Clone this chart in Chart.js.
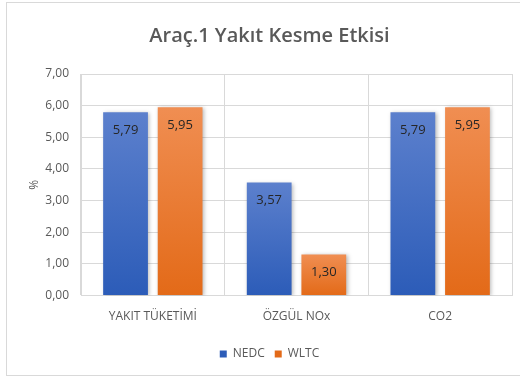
<!DOCTYPE html>
<html>
<head>
<meta charset="utf-8">
<script src="https://cdn.jsdelivr.net/npm/chart.js@4/dist/chart.umd.min.js"></script>
<style>
  html, body { margin: 0; padding: 0; background: #fff; overflow: hidden; }
  #frame {
    position: absolute; left: 6px; top: 2px; width: 560px; height: 374px;
    border: 1px solid #d9d9d9; box-sizing: border-box;
  }
  #chart { position: absolute; left: 0; top: 0; }
</style>
</head>
<body>
<div id="frame"></div>
<canvas id="chart" width="520" height="378"></canvas>
<script>
'use strict'

const categories = ['YAKIT TÜKETİMİ', 'ÖZGÜL NOx', 'CO2']
const nedcValues = [5.79, 3.57, 5.79]
const wltcValues = [5.95, 1.30, 5.95]
const yTicks = [0, 1, 2, 3, 4, 5, 6, 7]

const FONT = "'Open Sans', 'Noto Sans', sans-serif"
const GRAY = '#595959'

// vertical gradient for each bar, light at the top, darker at the base
const barGradient = (light, dark, solid) => ctx => {
  if (ctx.type !== 'data') return solid
  const chart = ctx.chart
  if (!chart.chartArea) return solid
  const y = chart.scales.y
  const top = y.getPixelForValue(ctx.dataset.data[ctx.dataIndex])
  const bottom = y.getPixelForValue(0)
  const g = chart.ctx.createLinearGradient(0, top, 0, bottom)
  g.addColorStop(0, light)
  g.addColorStop(1, dark)
  return g
}

// soft drop shadow under the bars
const barShadow = {
  id: 'barShadow',
  beforeDatasetsDraw (chart) {
    const c = chart.ctx
    c.save()
    c.shadowColor = 'rgba(0, 0, 0, 0.28)'
    c.shadowBlur = 4
    c.shadowOffsetX = 1.5
    c.shadowOffsetY = 1
  },
  afterDatasetsDraw (chart) {
    chart.ctx.restore()
  }
}

// value labels written inside the top of each bar
const valueLabels = {
  id: 'valueLabels',
  afterDatasetsDraw (chart) {
    const c = chart.ctx
    c.save()
    c.font = '13px ' + FONT
    c.fillStyle = '#262626'
    c.textAlign = 'center'
    c.textBaseline = 'middle'
    chart.data.datasets.forEach((ds, i) => {
      chart.getDatasetMeta(i).data.forEach((bar, j) => {
        const text = ds.data[j].toFixed(2).replace('.', ',')
        c.fillText(text, bar.x, bar.y + 18)
      })
    })
    c.restore()
  }
}

const chart = new Chart(document.getElementById('chart'), {
  type: 'bar',
  data: {
    labels: categories,
    datasets: [{
      label: 'NEDC',
      data: nedcValues,
      backgroundColor: barGradient('#5c80cd', '#2c5cb8', '#4472c4')
    }, {
      label: 'WLTC',
      data: wltcValues,
      backgroundColor: barGradient('#f08e52', '#e36a18', '#ed7d31')
    }]
  },
  options: {
    responsive: false,
    animation: false,
    categoryPercentage: 0.76,
    barPercentage: 0.82,
    layout: { padding: { left: 27, right: 8, top: 0, bottom: 8 } },
    plugins: {
      title: {
        display: true,
        text: 'Araç.1 Yakıt Kesme Etkisi',
        color: GRAY,
        font: { family: FONT, size: 20, weight: '600' },
        padding: { top: 24, bottom: 26 }
      },
      legend: {
        position: 'bottom',
        labels: {
          color: GRAY,
          font: { family: FONT, size: 12 },
          boxWidth: 7,
          boxHeight: 7,
          padding: 10
        }
      },
      tooltip: { enabled: false }
    },
    scales: {
      x: {
        grid: { color: '#d9d9d9', drawTicks: false, offset: true },
        border: { color: '#d9d9d9' },
        ticks: { color: GRAY, font: { family: FONT, size: 12 }, padding: 14 }
      },
      y: {
        min: 0,
        max: 7,
        afterBuildTicks: axis => { axis.ticks = yTicks.map(v => ({ value: v })) },
        afterFit: axis => { axis.width = 81 - 27 },
        grid: { color: '#d9d9d9', drawTicks: false },
        border: { color: '#d9d9d9' },
        ticks: {
          color: GRAY,
          font: { family: FONT, size: 12 },
          padding: 12,
          callback: v => Number(v).toFixed(2).replace('.', ',')
        },
        title: {
          display: true,
          text: '%',
          color: GRAY,
          font: { family: FONT, size: 12 },
          padding: 0
        }
      }
    }
  },
  plugins: [barShadow, valueLabels]
})
</script>
</body>
</html>
